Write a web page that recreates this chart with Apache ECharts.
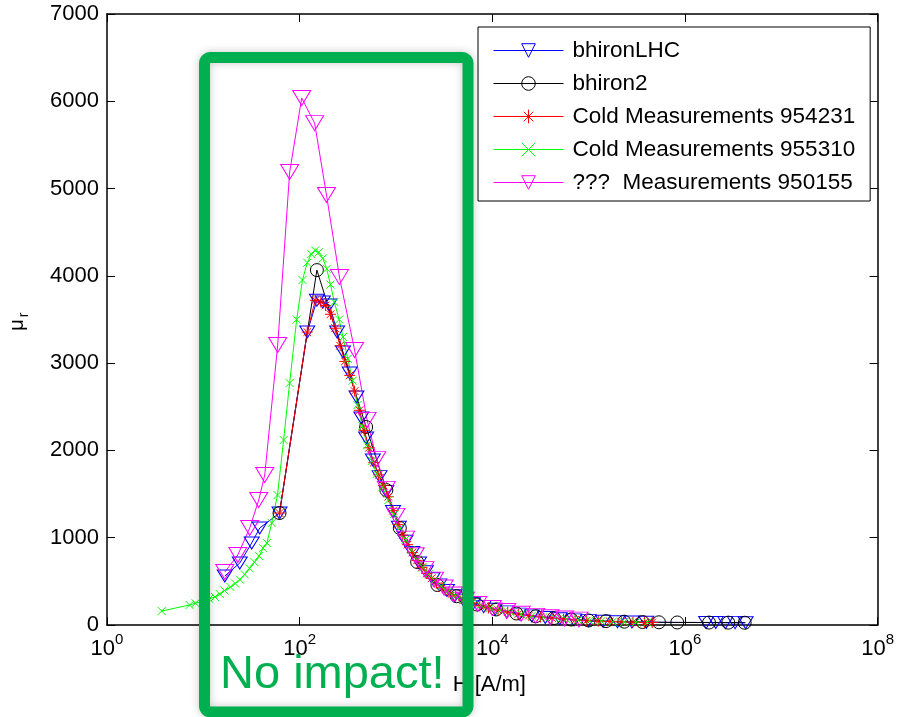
<!DOCTYPE html>
<html>
<head>
<meta charset="utf-8">
<script src="https://cdn.jsdelivr.net/npm/echarts@6/dist/echarts.min.js"></script>
<style>
html,body{margin:0;padding:0;background:#fff;}
#chart{width:897px;height:717px;}
</style>
</head>
<body>
<div id="chart"></div>
<script>
// ---------- data (H in A/m, mu_r) ----------
const seriesNames = ['bhironLHC', 'bhiron2', 'Cold Measurements 954231', 'Cold Measurements 955310', '???  Measurements 950155'];
const xTickExponents = ['0', '2', '4', '6', '8'];

const blueH = [16.7, 23.9, 31.8, 38.5, 61.8, 120, 151, 174, 204, 245, 282, 331, 389, 437, 490, 575, 676, 794, 933, 1072, 1259, 1479, 1738, 2042, 2399, 2818, 3388, 4074, 5012, 6310, 8128, 10715, 14125, 19055, 25704, 35481, 50119, 70795, 100000, 141254, 199526, 281838, 398107, 1659587, 2089296, 2630268, 3311311, 4265795];
const blueMu = [561, 710, 940, 1111, 1283, 3356, 3720, 3700, 3666, 3356, 3127, 2887, 2612, 2371, 2142, 1890, 1700, 1530, 1300, 1120, 960, 830, 710, 610, 530, 460, 395, 335, 285, 245, 210, 180, 150, 125, 104, 86, 71, 59, 50, 43, 38, 34, 31, 29, 28, 27, 27, 26];

const blackH = [61.8, 151, 490, 794, 1096, 1660, 2692, 4266, 6918, 10965, 17783, 28184, 43652, 66069, 100000, 151356, 234423, 363078, 537032, 831764, 1778279, 2818383, 4168694];
const blackMu = [1283, 4066, 2268, 1546, 1111, 722, 458, 330, 235, 178, 132, 100, 80, 63, 52, 44, 38, 34, 31, 29, 28, 27, 26];

const redH = [61.8, 120, 145, 166, 186, 209, 234, 263, 295, 331, 372, 417, 468, 525, 589, 661, 741, 832, 933, 1047, 1175, 1318, 1479, 1660, 1862, 2089, 2344, 2630, 3020, 3548, 4169, 5012, 6026, 7413, 9120, 11482, 14454, 18621, 23988, 31623, 41687, 54954, 72444, 95499, 125893, 165959, 218776, 288403, 380189, 457088];
const redMu = [1283, 3356, 3720, 3700, 3660, 3560, 3400, 3200, 3020, 2860, 2680, 2460, 2230, 2030, 1860, 1720, 1600, 1470, 1310, 1150, 1030, 920, 830, 740, 660, 590, 535, 480, 425, 375, 330, 285, 250, 220, 195, 170, 147, 126, 108, 92, 79, 68, 58, 50, 44, 40, 36, 33, 30, 29];

const greenH = [3.7, 7.2, 8.3, 10, 11.5, 13.2, 14.8, 16.6, 19.1, 21.4, 24.0, 26.9, 30.2, 33.9, 38.0, 41.7, 45.7, 51.3, 58.9, 68.2, 78.7, 93.1, 107, 120, 132, 145, 158, 174, 191, 209, 229, 257, 282, 316, 355, 398, 447, 501, 562, 631, 724, 832, 955, 1096, 1259, 1445, 1660, 1905, 2188, 2512, 2951, 3467, 4169, 5012, 6166, 7586, 9550, 12023, 15488, 19953, 25704, 33884, 44668, 58884, 77625, 102329, 134896, 177828, 234423, 309030, 407380];
const greenMu = [160, 229, 250, 275, 300, 321, 355, 395, 435, 475, 520, 580, 650, 720, 790, 880, 939, 1168, 1489, 2119, 2772, 3500, 3952, 4150, 4250, 4290, 4270, 4200, 4080, 3900, 3700, 3500, 3300, 3050, 2800, 2520, 2280, 2060, 1880, 1730, 1580, 1430, 1270, 1110, 980, 860, 750, 660, 580, 510, 445, 385, 335, 290, 255, 225, 195, 168, 145, 124, 106, 90, 77, 66, 57, 49, 43, 39, 35, 32, 30];

const magentaH = [16.7, 22.8, 30.3, 37.6, 43.4, 59.2, 78.8, 105, 143, 190, 259, 372, 501, 631, 794, 1000, 1259, 1585, 1995, 2512, 3162, 3981, 5248, 7079, 10000, 14125, 19953, 28184, 39811, 56234, 79433];
const magentaMu = [607, 802, 1111, 1432, 1718, 3207, 5189, 6037, 5750, 4926, 3986, 3150, 2350, 1900, 1560, 1250, 990, 800, 640, 520, 430, 350, 290, 240, 195, 160, 128, 105, 88, 74, 62];

// ---------- chart ----------
const FONT = "'Liberation Sans', Arial, Helvetica, sans-serif";
const GREEN = '#00B050';
const zip = (h, m) => h.map((x, i) => [x, m[i]]);
const STAR = 'path://M5,0L5,10M0,5L10,5M1.5,1.5L8.5,8.5M1.5,8.5L8.5,1.5';
const XMARK = 'path://M0,0L10,10M0,10L10,0';

function mkSeries(name, data, color, symbol, size, rotate) {
  return {
    name: name, type: 'line', data: data,
    xAxisIndex: 0, yAxisIndex: 0,
    symbol: symbol, symbolSize: size, symbolRotate: rotate || 0,
    showSymbol: true, clip: true,
    lineStyle: { color: color, width: 1 },
    itemStyle: { color: 'rgba(0,0,0,0)', borderColor: color, borderWidth: 1 },
    emphasis: { disabled: true },
    animation: false
  };
}

const axisLineStyle = { color: '#000', width: 1.5 };

const option = {
  animation: false,
  backgroundColor: '#fff',
  textStyle: { fontFamily: FONT },
  grid: { left: 107, right: 18, top: 14, bottom: 92, containLabel: false },
  legend: {
    orient: 'vertical', left: 478, top: 27,
    padding: [12, 15, 7, 15],
    itemGap: 10, itemWidth: 70, itemHeight: 17,
    backgroundColor: '#fff', borderColor: '#000', borderWidth: 1,
    itemStyle: { borderWidth: 1 },
    lineStyle: { width: 1 },
    textStyle: { fontSize: 22.5, lineHeight: 23, color: '#000', fontFamily: FONT, padding: [0, 0, 0, 4] },
    selectedMode: false,
    data: seriesNames
  },
  xAxis: [
    {
      type: 'log', logBase: 100, min: 1, max: 1e8, position: 'bottom',
      axisLine: { show: true, onZero: false, lineStyle: axisLineStyle },
      axisTick: { show: true, inside: true, length: 8, lineStyle: { color: '#000', width: 1 } },
      minorTick: { show: false }, splitLine: { show: false },
      axisLabel: {
        show: true, margin: 7, color: '#000',
        formatter: function (v, i) { return '{b|10}{s|' + xTickExponents[i] + '}'; },
        rich: {
          b: { fontSize: 22, lineHeight: 22, padding: [11, 0, 0, 0], fontFamily: FONT, color: '#000' },
          s: { fontSize: 15, lineHeight: 15, verticalAlign: 'top', fontFamily: FONT, color: '#000' }
        }
      },
      name: 'H [A/m]', nameLocation: 'middle', nameGap: 49,
      nameTextStyle: { fontSize: 22, color: '#000', fontFamily: FONT, padding: [0, 6, 0, 0] }
    },
    {
      type: 'log', logBase: 100, min: 1, max: 1e8, position: 'top',
      axisLine: { show: true, onZero: false, lineStyle: axisLineStyle },
      axisTick: { show: true, inside: true, length: 8, lineStyle: { color: '#000', width: 1 } },
      minorTick: { show: false }, splitLine: { show: false },
      axisLabel: { show: false }
    }
  ],
  yAxis: [
    {
      type: 'value', min: 0, max: 7000, interval: 1000, position: 'left',
      axisLine: { show: true, onZero: false, lineStyle: axisLineStyle },
      axisTick: { show: true, inside: true, length: 8, lineStyle: { color: '#000', width: 1 } },
      splitLine: { show: false },
      axisLabel: { show: true, margin: 8, fontSize: 22, color: '#000', fontFamily: FONT,
        formatter: function (v) { return String(v); } }
    },
    {
      type: 'value', min: 0, max: 7000, interval: 1000, position: 'right',
      axisLine: { show: true, onZero: false, lineStyle: axisLineStyle },
      axisTick: { show: true, inside: true, length: 8, lineStyle: { color: '#000', width: 1 } },
      splitLine: { show: false },
      axisLabel: { show: false }
    }
  ],
  series: [
    mkSeries(seriesNames[0], zip(blueH, blueMu), '#0000FF', 'triangle', [15, 12], 180),
    mkSeries(seriesNames[1], zip(blackH, blackMu), '#000000', 'circle', 13, 0),
    mkSeries(seriesNames[2], zip(redH, redMu), '#FF0000', STAR, 11, 0),
    mkSeries(seriesNames[3], zip(greenH, greenMu), '#00FF00', XMARK, 8, 0),
    mkSeries(seriesNames[4], zip(magentaH, magentaMu), '#FF00FF', 'triangle', [18, 15], 180)
  ],
  graphic: [
    {
      type: 'rect', z: 100,
      shape: { x: 204.5, y: 57.5, width: 263.5, height: 654.5, r: 6 },
      style: { fill: 'none', stroke: GREEN, lineWidth: 11, shadowBlur: 8, shadowColor: 'rgba(0,0,0,0.22)' }
    },
    {
      type: 'text', z: 101, x: 220, y: 675,
      style: { text: 'No impact!', fill: GREEN, font: '47px ' + FONT, align: 'left', verticalAlign: 'middle' }
    },
    {
      type: 'text', z: 101, x: 17, y: 325, rotation: Math.PI / 2,
      style: { text: 'μ', fill: '#000', font: '20px ' + FONT, align: 'center', verticalAlign: 'middle' }
    },
    {
      type: 'text', z: 101, x: 24, y: 315, rotation: Math.PI / 2,
      style: { text: 'r', fill: '#000', font: '14px ' + FONT, align: 'center', verticalAlign: 'middle' }
    }
  ]
};

const chart = echarts.init(document.getElementById('chart'), null, { renderer: 'canvas' });
chart.setOption(option);
</script>
</body>
</html>
